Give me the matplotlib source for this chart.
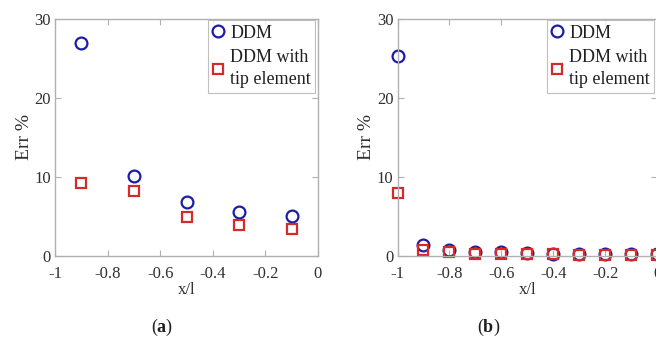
import matplotlib.pyplot as plt

plt.rcParams['font.family'] = ['Liberation Serif', 'DejaVu Serif']
plt.rcParams['mathtext.fontset'] = 'custom'
plt.rcParams['mathtext.rm'] = 'Liberation Serif'
plt.rcParams['mathtext.bf'] = 'Liberation Serif:bold'

# (a) coarse mesh
xa = [-0.9, -0.7, -0.5, -0.3, -0.1]
ddm_a = [26.9, 10.1, 6.8, 5.6, 5.1]
tip_a = [9.2, 8.2, 4.9, 3.9, 3.4]

# (b) fine mesh
xb = [-1.0, -0.9, -0.8, -0.7, -0.6, -0.5, -0.4, -0.3, -0.2, -0.1, 0.0]
ddm_b = [25.3, 1.4, 0.8, 0.55, 0.45, 0.35, 0.3, 0.3, 0.25, 0.25, 0.25]
tip_b = [8.0, 0.8, 0.5, 0.3, 0.2, 0.2, 0.2, 0.15, 0.15, 0.15, 0.15]

xticks = [-1, -0.8, -0.6, -0.4, -0.2, 0]
xticklabels = ['-1', '-0.8', '-0.6', '-0.4', '-0.2', '0']
yticks = [0, 10, 20, 30]
yticklabels = ['0', '10', '20', '30']

W, H = 656, 340
fig = plt.figure(figsize=(W / 100, H / 100), dpi=100)


def px_axes(x0, x1, y0, y1):
    # axes placed by pixel edges (y measured from top)
    return fig.add_axes([x0 / W, 1 - y1 / H, (x1 - x0) / W, (y1 - y0) / H])


def style(ax, x, ddm, tip):
    ax.plot(x, ddm, 'o', ms=8.5, mfc='none', mec='#1c1ca8', mew=1.6,
            label='DDM', clip_on=False)
    ax.plot(x, tip, 's', ms=6.5, mfc='none', mec='#d42a2a', mew=1.6,
            label='DDM with\ntip element', clip_on=False)
    ax.set_xlim(-1, 0)
    ax.set_ylim(0, 30)
    ax.set_xticks(xticks)
    ax.set_xticklabels(xticklabels)
    ax.set_yticks(yticks)
    ax.set_yticklabels(yticklabels)
    ax.tick_params(direction='in', top=True, right=True, length=4,
                   color='#b0b0b0', labelsize=12, labelcolor='#303030')
    ax.tick_params(axis='x', pad=7)
    ax.tick_params(axis='y', pad=3)
    for s in ax.spines.values():
        s.set_color('#b0b0b0')
        s.set_linewidth(1.0)
    ax.set_xlabel('x/l', fontsize=12, color='#303030', labelpad=0)
    ax.set_ylabel('Err %', fontsize=14, color='#303030', labelpad=1)
    leg = ax.legend(loc='upper right', bbox_to_anchor=(0.99, 0.995),
                    fontsize=13, frameon=True, fancybox=False,
                    handlelength=0.6, handletextpad=0.35, labelspacing=0.4,
                    borderpad=0.25, borderaxespad=0)
    leg.get_frame().set_edgecolor('#b0b0b0')
    leg.get_frame().set_linewidth(0.8)
    for t in leg.get_texts():
        t.set_color('#202020')
        t.set_linespacing(1.4)


ax1 = px_axes(55, 318, 19, 256)
style(ax1, xa, ddm_a, tip_a)

ax2 = px_axes(397.5, 657, 19, 256)
style(ax2, xb, ddm_b, tip_b)

fig.text(162 / W, 1 - 327 / H, r'($\mathbf{a}$)', ha='center', va='center',
         fontsize=13, color='#202020')
fig.text(489 / W, 1 - 327 / H, r'($\mathbf{b}$)', ha='center', va='center',
         fontsize=13, color='#202020')

fig.savefig('out.png', dpi=100)
